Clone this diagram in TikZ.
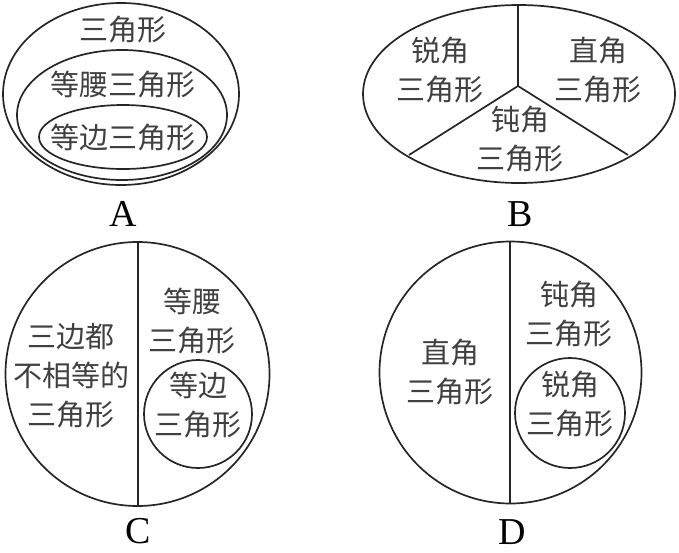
\documentclass[tikz,border=0pt]{standalone}
\usepackage{fontspec}
\newfontfamily\cjk{Noto Sans CJK SC}
\setmainfont{Liberation Serif}
\begin{document}
\begin{tikzpicture}[x=1pt,y=-1pt,
  shp/.style={draw=black!85,line width=1.7pt},
  lbl/.style={inner sep=0pt,text=black!75,align=center,font=\cjk\fontsize{29}{39}\selectfont},
  letterlbl/.style={inner sep=0pt,font=\fontsize{38}{40}\selectfont}]
\useasboundingbox (0,0) rectangle (679,552);
% Panel A
\draw[shp] (121,94) ellipse [x radius=118,y radius=91];
\draw[shp] (122,115) ellipse [x radius=105,y radius=65];
\draw[shp] (123,137) ellipse [x radius=84,y radius=32];
\node[lbl] (a1) at (123,30) {三角形};
\node[lbl] (a2) at (123,85) {等腰三角形};
\node[lbl] (a3) at (123,138) {等边三角形};
\node[letterlbl] (la) at (123,214) {A};
% Panel B
\draw[shp] (519,94) ellipse [x radius=156,y radius=89];
\coordinate (bc) at (518,86);
\coordinate (bt) at (518,5);
\coordinate (bl) at (409,155);
\coordinate (br) at (628,155);
\draw[shp] (bt) -- (bc) (bc) -- (bl) (bc) -- (br);
\node[lbl] (b1) at (440,70) {锐角\\三角形};
\node[lbl] (b2) at (598,70) {直角\\三角形};
\node[lbl] (b3) at (520,139) {钝角\\三角形};
\node[letterlbl] (lb) at (520,214) {B};
% Panel C
\draw[shp] (137.5,374) circle [radius=132];
\coordinate (ct) at (138,242);
\coordinate (cb) at (138,506);
\draw[shp] (ct) -- (cb);
\draw[shp] (198,414) circle [radius=54];
\node[lbl] (c1) at (71,376) {三边都\\不相等的\\三角形};
\node[lbl] (c2) at (192,321) {等腰\\三角形};
\node[lbl] (c3) at (198,405) {等边\\三角形};
\node[letterlbl] (lc) at (138,531) {C};
% Panel D
\draw[shp] (510.5,372.5) circle [radius=131];
\coordinate (dt) at (510,241);
\coordinate (db) at (510,504);
\draw[shp] (dt) -- (db);
\draw[shp] (570,413) circle [radius=55];
\node[lbl] (d1) at (450,372) {直角\\三角形};
\node[lbl] (d2) at (569,314) {钝角\\三角形};
\node[lbl] (d3) at (570,404) {锐角\\三角形};
\node[letterlbl] (ld) at (512,532) {D};
\end{tikzpicture}
\end{document}
